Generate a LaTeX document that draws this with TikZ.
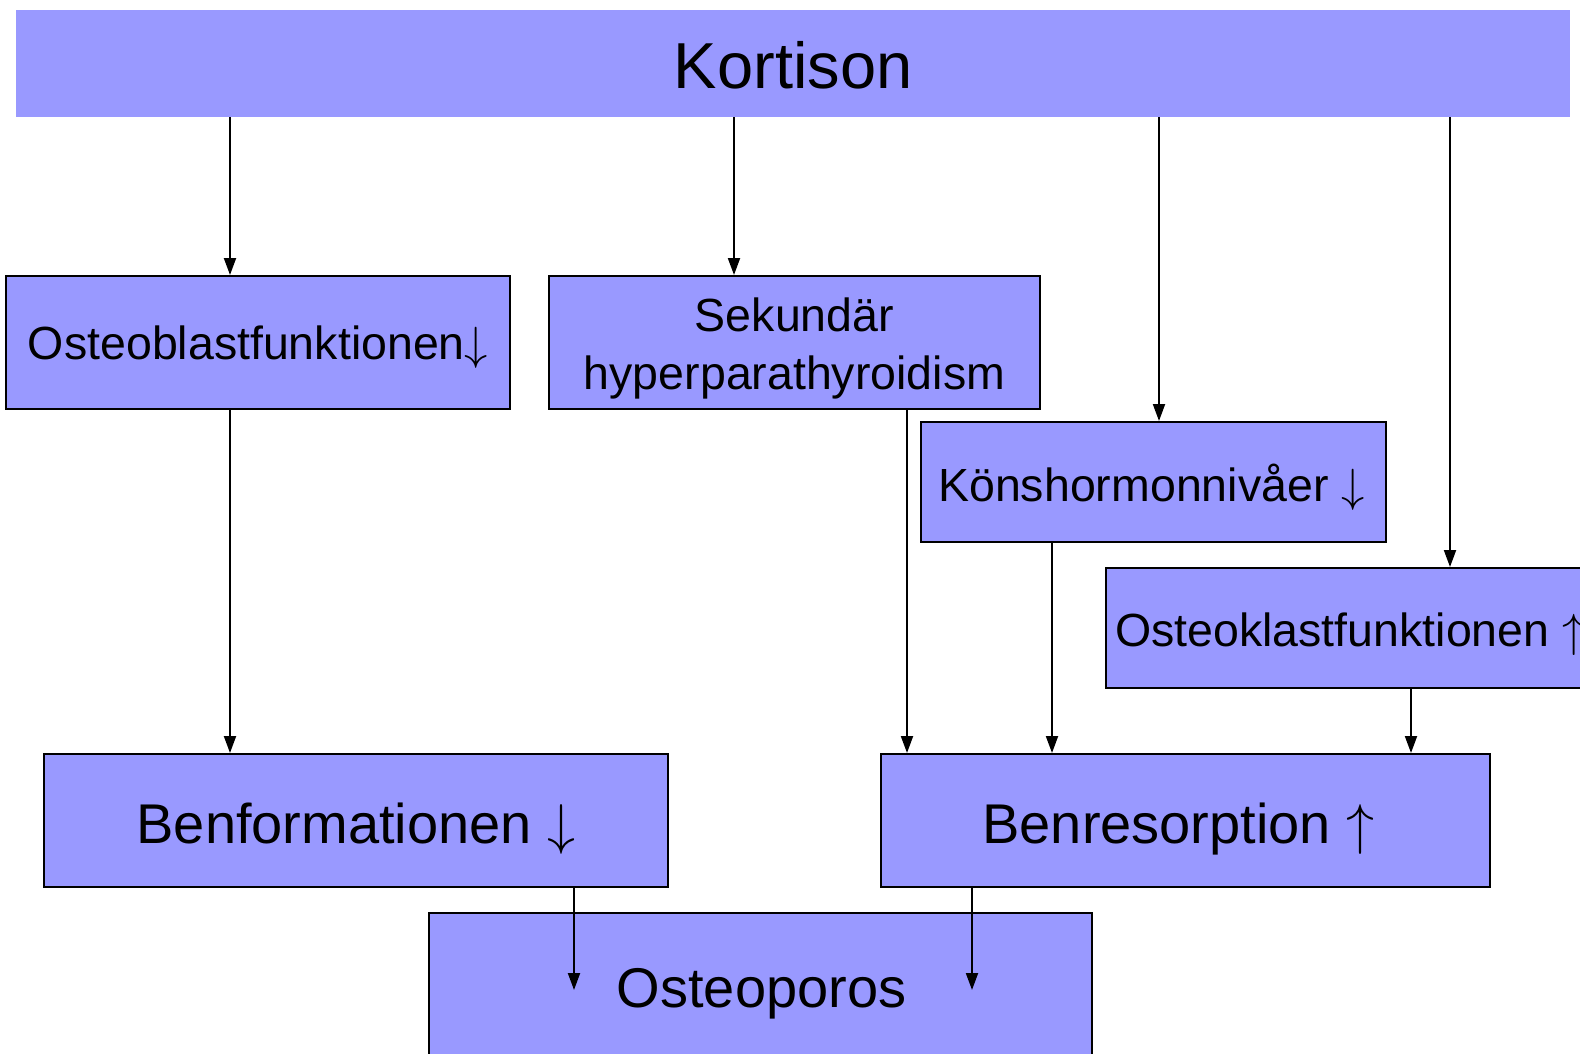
\documentclass[tikz,border=0pt]{standalone}
\usepackage{graphicx}
\usepackage{fontspec}
\setmainfont{Liberation Sans}
\usetikzlibrary{arrows.meta}
\definecolor{boxblue}{HTML}{9999FF}
\newcommand{\dnarr}[1]{\scalebox{#1}{\fontsize{10}{12}\selectfont$\downarrow$}}
\newcommand{\uparr}[1]{\scalebox{#1}{\fontsize{10}{12}\selectfont$\uparrow$}}
\begin{document}
\begin{tikzpicture}[x=1pt,y=-1pt,
  box/.style={draw=black,line width=2pt,fill=boxblue,anchor=north west,inner sep=0pt},
  arr/.style={line width=2pt,-{Triangle[length=17pt,width=12pt]}},
  txt/.style={inner sep=0pt,anchor=base},
  mid/.style={txt,font=\fontsize{46.5}{57}\selectfont},
  big/.style={txt,font=\fontsize{56}{66}\selectfont}]
\useasboundingbox (0,0) rectangle (1580,1054);
\clip (0,0) rectangle (1580,1054);
\fill[white] (0,0) rectangle (1580,1054);
% boxes
\node[fill=boxblue,anchor=north west,inner sep=0pt,minimum width=1554pt,minimum height=107pt] (kort) at (16,10) {};
\node[box,minimum width=504pt,minimum height=133pt] (ob) at (5,275) {};
\node[box,minimum width=491pt,minimum height=133pt] (sek) at (548,275) {};
\node[box,minimum width=465pt,minimum height=120pt] (kon) at (920,421) {};
\node[box,minimum width=520pt,minimum height=120pt] (ok) at (1105,567) {};
\node[box,minimum width=624pt,minimum height=133pt] (bf) at (43,753) {};
\node[box,minimum width=609pt,minimum height=133pt] (br) at (880,753) {};
\node[box,minimum width=663pt,minimum height=152pt] (op) at (428,912) {};
% texts
\node[txt,font=\fontsize{65}{75}\selectfont] (kortt) at ([yshift=-24.5pt]kort.center) {Kortison};
\node[mid] (obt) at ([yshift=-16.5pt]ob.center) {Osteoblastfunktionen\dnarr{4.65}};
\node[mid] (sekt1) at ([yshift=11pt]sek.center) {Sekundär};
\node[mid] (sekt2) at ([yshift=-46.5pt]sek.center) {hyperparathyroidism};
\node[mid] (kont) at ([xshift=-2pt,yshift=-19pt]kon.center) {Könshormonnivåer \dnarr{4.65}};
\node[mid,anchor=base west] (okt) at ([xshift=10pt,yshift=-18pt]ok.west) {Osteoklastfunktionen \uparr{4.65}};
\node[big] (bft) at ([yshift=-22.5pt]bf.center) {Benformationen \dnarr{5.6}};
\node[big] (brt) at ([xshift=-7pt,yshift=-22.5pt]br.center) {Benresorption \uparr{5.6}};
\node[big] (opt) at ([xshift=1pt,yshift=-18pt]op.center) {Osteoporos};
% connector x positions
\coordinate (x1) at (230,0);
\coordinate (x2) at (734,0);
\coordinate (x3) at (1159,0);
\coordinate (x4) at (1450,0);
\coordinate (x5) at (907,0);
\coordinate (x6) at (1052,0);
\coordinate (x7) at (1411,0);
\coordinate (e1) at (574,990);
\coordinate (e2) at (972,990);
\draw[arr] (kort.south -| x1) -- (ob.north -| x1);
\draw[arr] (kort.south -| x2) -- (sek.north -| x2);
\draw[arr] (kort.south -| x3) -- (kon.north -| x3);
\draw[arr] (kort.south -| x4) -- (ok.north -| x4);
\draw[arr] (ob.south -| x1) -- (bf.north -| x1);
\draw[arr] (sek.south -| x5) -- (br.north -| x5);
\draw[arr] (kon.south -| x6) -- (br.north -| x6);
\draw[arr] (ok.south -| x7) -- (br.north -| x7);
\draw[arr] (bf.south -| e1) -- (e1);
\draw[arr] (br.south -| e2) -- (e2);
\end{tikzpicture}
\end{document}
